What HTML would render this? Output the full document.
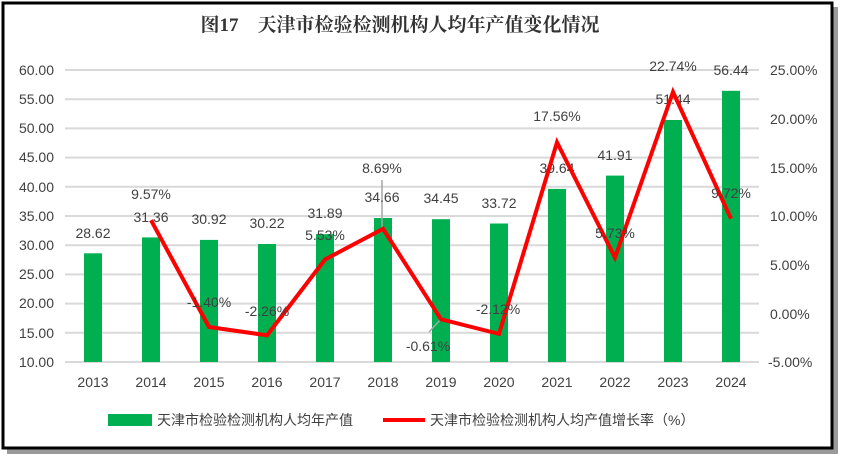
<!DOCTYPE html>
<html><head><meta charset="utf-8"><style>
html,body{margin:0;padding:0;background:#fff;}
svg{display:block;}
text{font-family:"Liberation Sans","Noto Sans CJK SC",sans-serif;fill:#404040;font-size:14px;}
</style></head><body>
<svg width="844" height="460" xmlns="http://www.w3.org/2000/svg">
<rect x="7" y="7" width="831" height="447" fill="#9a9a9a"/>
<rect x="3" y="3" width="829" height="445" fill="#fff" stroke="#000" stroke-width="3"/>
<text x="400" y="31" text-anchor="middle" style="font-size:19px;font-weight:bold;fill:#333;font-family:'Liberation Serif','Noto Serif CJK SC',serif">图17　天津市检验检测机构人均年产值变化情况</text>
<g stroke="#d9d9d9" stroke-width="2">
<line x1="65" x2="759" y1="70" y2="70"/><line x1="65" x2="759" y1="99.2" y2="99.2"/><line x1="65" x2="759" y1="128.4" y2="128.4"/><line x1="65" x2="759" y1="157.6" y2="157.6"/><line x1="65" x2="759" y1="186.8" y2="186.8"/><line x1="65" x2="759" y1="216" y2="216"/><line x1="65" x2="759" y1="245.2" y2="245.2"/><line x1="65" x2="759" y1="274.4" y2="274.4"/><line x1="65" x2="759" y1="303.6" y2="303.6"/><line x1="65" x2="759" y1="332.8" y2="332.8"/><line x1="65" x2="759" y1="362" y2="362"/>
</g>
<g text-anchor="end">
<text x="54" y="75">60.00</text><text x="54" y="104">55.00</text><text x="54" y="133">50.00</text><text x="54" y="162">45.00</text><text x="54" y="192">40.00</text><text x="54" y="221">35.00</text><text x="54" y="250">30.00</text><text x="54" y="279">25.00</text><text x="54" y="308">20.00</text><text x="54" y="338">15.00</text><text x="54" y="367">10.00</text>
</g>
<g>
<text x="770" y="75">25.00%</text><text x="770" y="124">20.00%</text><text x="770" y="173">15.00%</text><text x="770" y="221">10.00%</text><text x="770" y="270">5.00%</text><text x="770" y="319">0.00%</text><text x="768" y="367">-5.00%</text>
</g>
<g fill="#00b050">
<rect x="84" y="253.3" width="18" height="108.7"/>
<rect x="142" y="237.4" width="18" height="124.6"/>
<rect x="200" y="239.9" width="18" height="122.1"/>
<rect x="258" y="244" width="18" height="118"/>
<rect x="316" y="234.2" width="18" height="127.8"/>
<rect x="374" y="218" width="18" height="144"/>
<rect x="432" y="219.2" width="18" height="142.8"/>
<rect x="490" y="223.5" width="18" height="138.5"/>
<rect x="548" y="188.9" width="18" height="173.1"/>
<rect x="606" y="175.6" width="18" height="186.4"/>
<rect x="664" y="120" width="18" height="242"/>
<rect x="722" y="90.8" width="18" height="271.2"/>
</g>
<g text-anchor="middle">
<text x="93" y="387">2013</text><text x="151" y="387">2014</text><text x="209" y="387">2015</text><text x="267" y="387">2016</text><text x="325" y="387">2017</text><text x="383" y="387">2018</text><text x="441" y="387">2019</text><text x="499" y="387">2020</text><text x="557" y="387">2021</text><text x="615" y="387">2022</text><text x="673" y="387">2023</text><text x="731" y="387">2024</text>
</g>
<g stroke="#a6a6a6" stroke-width="1.5">
<line x1="382" y1="180" x2="382" y2="228"/>
<line x1="441" y1="319" x2="429" y2="332"/>
</g>
<g text-anchor="middle">
<text x="93" y="238">28.62</text><text x="151" y="222">31.36</text><text x="209" y="224">30.92</text><text x="267" y="228">30.22</text><text x="325" y="218">31.89</text><text x="382" y="202">34.66</text><text x="441" y="203">34.45</text><text x="499" y="208">33.72</text><text x="557" y="173">39.64</text><text x="615" y="160">41.91</text><text x="673" y="104">51.44</text><text x="731" y="75">56.44</text>
</g>
<polyline fill="none" stroke="#ff0000" stroke-width="4" stroke-linejoin="miter" points="151,220.2 209,327 267,335.3 325,259.5 383,228.8 441,319.3 499,333.9 557,142.4 615,257.6 673,92 731,218.7"/>
<g text-anchor="middle">
<text x="151" y="199">9.57%</text><text x="209" y="307">-1.40%</text><text x="267" y="316">-2.26%</text><text x="325" y="240">5.53%</text><text x="382" y="173">8.69%</text><text x="428" y="351">-0.61%</text><text x="498" y="314">-2.12%</text><text x="557" y="121">17.56%</text><text x="615" y="238">5.73%</text><text x="673" y="71">22.74%</text><text x="731" y="198">9.72%</text>
</g>
<rect x="108" y="414" width="44" height="12" fill="#00b050"/>
<text x="157" y="425" style="font-size:14px">天津市检验检测机构人均年产值</text>
<line x1="383" y1="420" x2="425" y2="420" stroke="#ff0000" stroke-width="4"/>
<text x="430" y="425" style="font-size:14px">天津市检验检测机构人均产值增长率（%）</text>
</svg>
</body></html>
